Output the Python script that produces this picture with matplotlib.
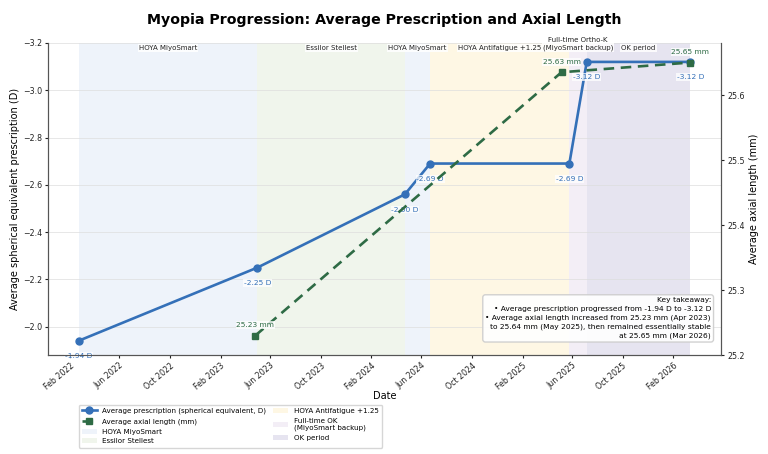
import matplotlib
matplotlib.use("Agg")
import matplotlib.pyplot as plt
import matplotlib.dates as mdates
import numpy as np
import pandas as pd

# ---- data ----
presc_dates = ["2022-02-22", "2023-05-01", "2024-04-22", "2024-06-22",
               "2025-05-25", "2025-07-06", "2026-03-14"]
presc_values = [-1.94, -2.25, -2.56, -2.69, -2.69, -3.12, -3.12]
presc_labels = ["-1.94 D", "-2.25 D", "-2.50 D", "-2.69 D", "-2.69 D", "-3.12 D", "-3.12 D"]

axial_dates = ["2023-04-26", "2025-05-06", "2026-03-14"]
axial_values = [25.23, 25.635, 25.65]
axial_labels = ["25.23 mm", "25.63 mm", "25.65 mm"]

period_names = ["HOYA MiyoSmart", "Essilor Stellest", "HOYA MiyoSmart",
                "HOYA Antifatigue +1.25", "Full-time OK\n(MiyoSmart backup)", "OK period"]
period_top_labels = ["HOYA MiyoSmart", "Essilor Stellest", "HOYA MiyoSmart",
                     "HOYA Antifatigue +1.25", "Full-time Ortho-K\n(MiyoSmart backup)", "OK period"]
period_starts = ["2022-02-22", "2023-05-01", "2024-04-22", "2024-06-22", "2025-05-25", "2025-07-06"]
period_ends = ["2023-05-01", "2024-04-22", "2024-06-22", "2025-05-25", "2025-07-06", "2026-03-14"]
period_colors = ["#eef3fa", "#f0f5ec", "#eef3fa", "#fef7e4", "#f3eef6", "#e6e4f0"]

takeaway = ("Key takeaway:\n"
            "• Average prescription progressed from -1.94 D to -3.12 D\n"
            "• Average axial length increased from 25.23 mm (Apr 2023)\n"
            "to 25.64 mm (May 2025), then remained essentially stable\n"
            "at 25.65 mm (Mar 2026)")

pd_presc = pd.to_datetime(presc_dates)
pd_axial = pd.to_datetime(axial_dates)

blue = "#3470b8"
green = "#2e6b45"

fig = plt.figure(figsize=(7.68, 4.54), dpi=100)
ax = fig.add_axes([48/768, 1-355/454, (721-48)/768, (355-43)/454])
ax2 = ax.twinx()

# spans
seen = set()
for name, s, e, c in zip(period_names, period_starts, period_ends, period_colors):
    lab = name if name not in seen else None
    seen.add(name)
    ax.axvspan(pd.Timestamp(s), pd.Timestamp(e), color=c, zorder=0, label=lab, lw=0)

for lab, s, e in zip(period_top_labels, period_starts, period_ends):
    mid = pd.Timestamp(s) + (pd.Timestamp(e) - pd.Timestamp(s)) / 2
    ax.text(mid, 0.975, lab, transform=ax.get_xaxis_transform(), ha="center", va="bottom",
            fontsize=5.0, color="#222222", zorder=5, linespacing=1.3,
            bbox=dict(boxstyle="square,pad=0.15", fc="white", ec="none", alpha=0.85))

# prescription
l1, = ax.plot(pd_presc, presc_values, "-o", color=blue, lw=1.9, ms=5,
              label="Average prescription (spherical equivalent, D)", zorder=3)
for d, v, t in zip(pd_presc, presc_values, presc_labels):
    ax.annotate(t, (d, v), xytext=(0, -11), textcoords="offset points",
                ha="center", va="center", fontsize=5.4, color=blue, zorder=4,
                annotation_clip=False,
                bbox=dict(boxstyle="square,pad=0.1", fc="white", ec="none", alpha=0.75))

ax.set_ylim(-1.88, -3.2)
ax.set_yticks([-3.2, -3.0, -2.8, -2.6, -2.4, -2.2, -2.0])
ax.set_ylabel("Average spherical equivalent prescription (D)", fontsize=7, labelpad=2)
ax.set_xlabel("Date", fontsize=7, labelpad=0)
ax.grid(axis="y", color="#dddddd", alpha=0.7, lw=0.7)

# axial
l2, = ax2.plot(pd_axial, axial_values, "--s", color=green, lw=1.9, ms=5,
               dashes=(4, 2.5), label="Average axial length (mm)", zorder=3)
for d, v, t in zip(pd_axial, axial_values, axial_labels):
    ax2.annotate(t, (d, v), xytext=(0, 7.5), textcoords="offset points",
                 ha="center", va="center", fontsize=5.4, color=green, zorder=4,
                 bbox=dict(boxstyle="square,pad=0.1", fc="white", ec="none", alpha=0.75))
ax2.set_ylim(25.2, 25.68)
ax2.set_yticks([25.2, 25.3, 25.4, 25.5, 25.6])
ax2.set_ylabel("Average axial length (mm)", fontsize=7, labelpad=3)

for a in (ax, ax2):
    a.spines["top"].set_visible(False)
    for sp in ("left", "right", "bottom"):
        a.spines[sp].set_color("#555555")
    a.tick_params(labelsize=5.7, colors="#222222", length=2.5, pad=1.8)

ax.xaxis.set_major_locator(mdates.MonthLocator(bymonth=[2, 6, 10]))
ax.xaxis.set_major_formatter(mdates.DateFormatter("%b %Y"))
plt.setp(ax.get_xticklabels(), rotation=40, ha="right", rotation_mode="anchor")

ax2.text(0.985, 0.05, takeaway, transform=ax2.transAxes, ha="right", va="bottom",
         fontsize=5.4, multialignment="right", zorder=6, linespacing=1.55,
         bbox=dict(boxstyle="round,pad=0.35", fc="white", ec="#cccccc", alpha=0.9))

fig.suptitle("Myopia Progression: Average Prescription and Axial Length",
             fontsize=10.2, fontweight="bold", y=0.972, x=0.5)

h1, lb1 = ax.get_legend_handles_labels()
span_h = [h for h in h1 if h is not l1]
span_l = [l for h, l in zip(h1, lb1) if h is not l1]
handles = [l1, l2] + span_h
labels = [l1.get_label(), l2.get_label()] + span_l
fig.legend(handles, labels, loc="upper left", bbox_to_anchor=(75/768, 1-401/454),
           ncol=2, fontsize=5.1, frameon=True, edgecolor="#cccccc",
           handlelength=2.1, borderpad=0.45, labelspacing=0.55, columnspacing=1.0)

fig.savefig("out.png", dpi=100)
